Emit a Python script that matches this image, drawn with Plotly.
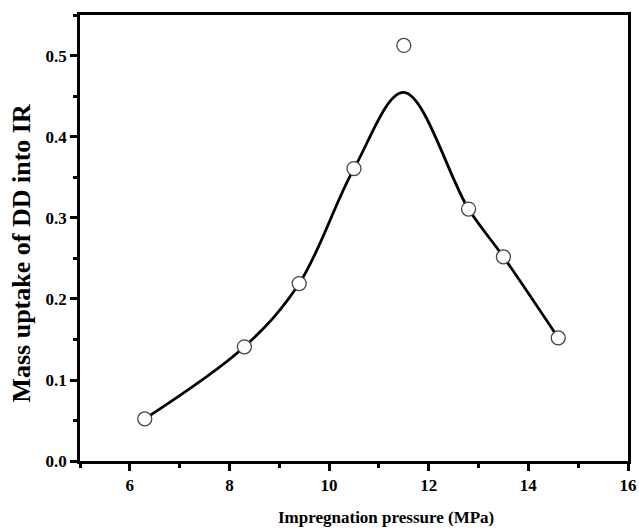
import plotly.graph_objects as go

pressure = [6.3, 8.3, 9.4, 10.5, 11.5, 12.8, 13.5, 14.6]
uptake = [0.052, 0.141, 0.219, 0.361, 0.513, 0.311, 0.252, 0.152]

fit_x = [6.3, 8.3, 9.4, 10.5, 11.5, 12.8, 13.5, 14.6]
fit_y = [0.052, 0.141, 0.219, 0.361, 0.455, 0.311, 0.252, 0.152]

x_ticks = [6, 8, 10, 12, 14, 16]
y_ticks = [0.0, 0.1, 0.2, 0.3, 0.4, 0.5]

x_title = "Impregnation pressure (MPa)"
y_title = "Mass uptake of DD into IR"

font_family = "Liberation Serif"

fig = go.Figure()
fig.add_trace(go.Scatter(
    x=fit_x, y=fit_y, mode="lines",
    line=dict(color="black", width=2.8, shape="spline", smoothing=1.0),
    showlegend=False, hoverinfo="skip",
))
fig.add_trace(go.Scatter(
    x=pressure, y=uptake, mode="markers",
    marker=dict(symbol="circle", size=14, color="white",
                line=dict(color="#444444", width=1.3)),
    showlegend=False,
))

axis_common = dict(
    showgrid=False, zeroline=False, automargin=False,
    showline=True, linecolor="black", linewidth=2.5, mirror=True,
    ticks="outside", ticklen=7, tickwidth=2.5, tickcolor="black",
    tickfont=dict(family=font_family, size=17, color="black", weight="bold"),
)

fig.update_xaxes(
    range=[5, 16], tickvals=x_ticks, ticktext=[str(v) for v in x_ticks],
    minor=dict(dtick=1, tick0=5, ticks="outside", ticklen=4, tickwidth=2.5, tickcolor="black"),
    **axis_common,
)
fig.update_yaxes(
    range=[0, 0.5506], tickvals=y_ticks, ticktext=[f"{v:.1f}" for v in y_ticks],
    minor=dict(dtick=0.05, tick0=0, ticks="outside", ticklen=4, tickwidth=2.5, tickcolor="black"),
    **axis_common,
)

fig.add_annotation(
    text=x_title, xref="paper", yref="paper", x=0.5, y=0,
    xanchor="center", yanchor="middle", xshift=32, yshift=-56,
    showarrow=False,
    font=dict(family=font_family, size=17, color="black", weight="bold"),
)
fig.add_annotation(
    text=y_title, xref="paper", yref="paper", x=0, y=0.465,
    xanchor="center", yanchor="middle", xshift=-58, textangle=-90,
    showarrow=False,
    font=dict(family=font_family, size=26, color="black", weight="bold"),
)

fig.update_layout(
    width=639, height=528,
    margin=dict(l=80, r=11, t=15, b=67),
    plot_bgcolor="white", paper_bgcolor="white",
)

fig.write_html(
    "out.html",
    config={"displayModeBar": False},
    post_script="document.body.style.margin='0';document.body.style.overflow='hidden';",
)
